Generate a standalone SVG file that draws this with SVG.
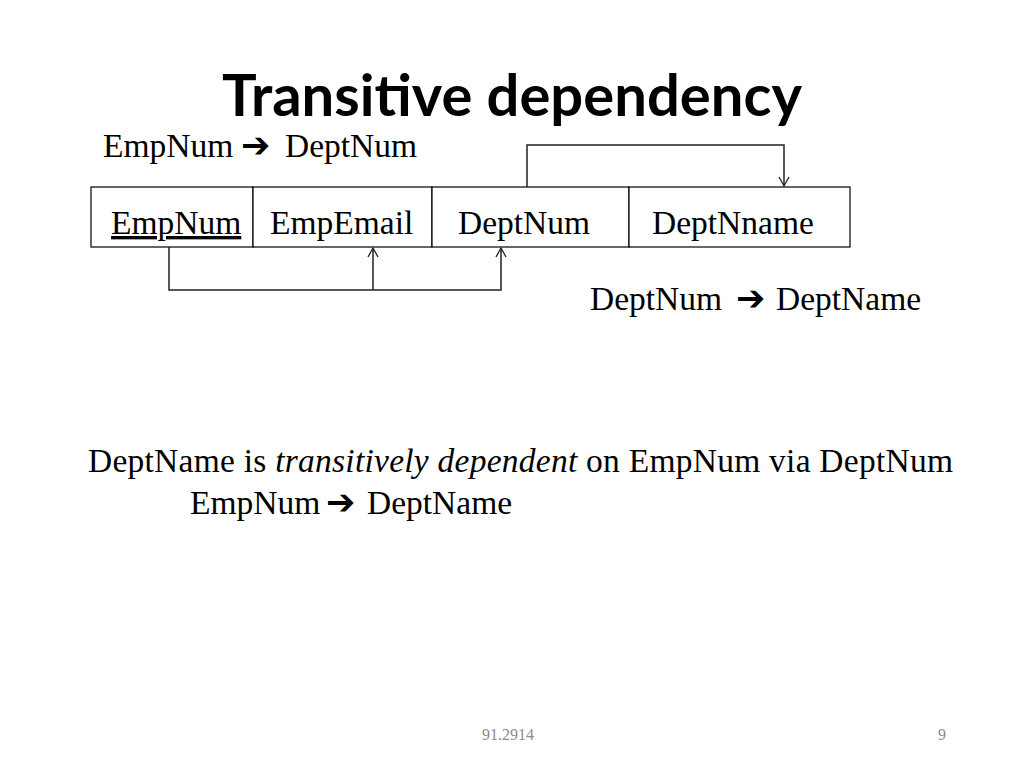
<svg xmlns="http://www.w3.org/2000/svg" width="1024" height="768" viewBox="0 0 1024 768">
  <style>
    .t { font-family: "Liberation Serif", "Times New Roman", serif; font-size: 33.5px; fill: #000; }
    .ar { font-family: "DejaVu Sans", sans-serif; font-weight: bold; font-size: 35px; }
    .title { font-family: Lato, "Open Sans", sans-serif; font-weight: bold; font-size: 58px; fill: #000; }
    .foot { font-family: "Liberation Serif", serif; font-size: 16px; fill: #8b8b8b; }
    .cell { fill: #fff; stroke: #000; stroke-width: 1.2; }
    .conn { fill: none; stroke: #222; stroke-width: 1.5; }
  </style>
  <defs>
    <marker id="ah" markerWidth="12" markerHeight="12" refX="10" refY="6" orient="auto" markerUnits="userSpaceOnUse">
      <path d="M1,1 L10,6 L1,11" fill="none" stroke="#222" stroke-width="1.3"/>
    </marker>
  </defs>
  <rect width="1024" height="768" fill="#fff"/>

  <text class="title" x="512" y="116" text-anchor="middle" textLength="580" lengthAdjust="spacingAndGlyphs">Transitive dependency</text>

  <g id="fd1">
    <text class="t" y="157"><tspan x="103">EmpNum</tspan><tspan class="ar" x="241">➔</tspan><tspan x="285">DeptNum</tspan></text>
  </g>

  <g id="cell-empnum">
    <rect class="cell" x="91" y="187" width="162" height="60"/>
    <text class="t" x="111" y="234" text-decoration="underline">EmpNum</text>
  </g>
  <g id="cell-empemail">
    <rect class="cell" x="253" y="187" width="179" height="60"/>
    <text class="t" x="270" y="234">EmpEmail</text>
  </g>
  <g id="cell-deptnum">
    <rect class="cell" x="432" y="187" width="197" height="60"/>
    <text class="t" x="458" y="234">DeptNum</text>
  </g>
  <g id="cell-deptname">
    <rect class="cell" x="629" y="187" width="221" height="60"/>
    <text class="t" x="652" y="234">DeptNname</text>
  </g>

  <g id="connectors">
    <path class="conn" d="M527,187 V145 H784 V186" marker-end="url(#ah)"/>
    <path class="conn" d="M169,247 V290 H501 V248" marker-end="url(#ah)"/>
    <path class="conn" d="M373,290 V248" marker-end="url(#ah)"/>
  </g>

  <g id="fd2">
    <text class="t" y="310"><tspan x="590">DeptNum</tspan><tspan class="ar" x="736">➔</tspan><tspan x="776">DeptName</tspan></text>
  </g>

  <g id="note">
    <text class="t" x="88" y="472" textLength="865" lengthAdjust="spacing">DeptName is <tspan font-style="italic">transitively dependent</tspan> on EmpNum via DeptNum</text>
    <text class="t" y="514"><tspan x="190">EmpNum</tspan><tspan class="ar" x="326">➔</tspan><tspan x="367">DeptName</tspan></text>
  </g>

  <text class="foot" x="482" y="740">91.2914</text>
  <text class="foot" x="946" y="740" text-anchor="end">9</text>
</svg>
